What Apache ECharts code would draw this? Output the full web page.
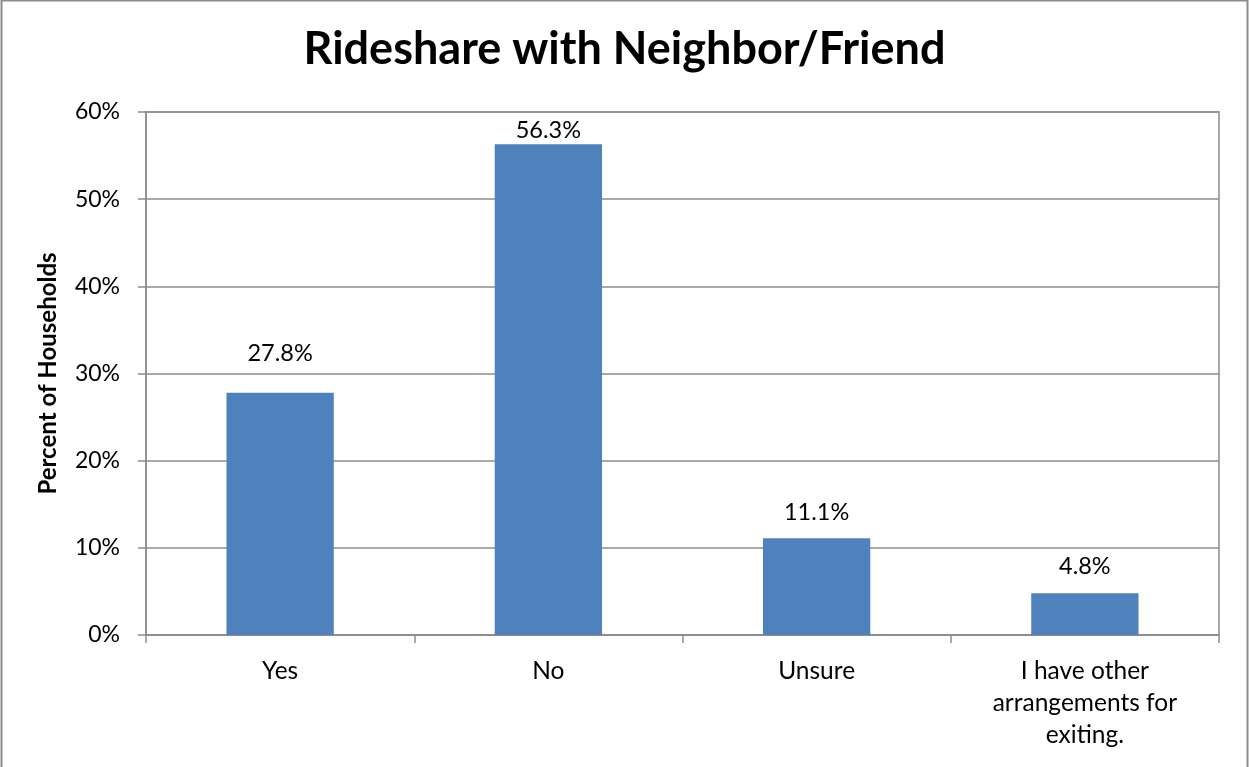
<!DOCTYPE html>
<html><head><meta charset="utf-8">
<script src="https://cdn.jsdelivr.net/npm/echarts@6/dist/echarts.min.js"></script>
<style>html,body{margin:0;padding:0;background:#fff}#c{width:1249px;height:767px}</style>
</head><body><div id="c"></div>
<script>
const categories = ['Yes', 'No', 'Unsure', 'I have other\narrangements for\nexiting.'];
const values = [27.8, 56.3, 11.1, 4.8];
const yTicks = [0, 10, 20, 30, 40, 50, 60];
const labelDistances = [27, 2, 14, 15];

const FONT = 'Lato, "Open Sans", sans-serif';
const chart = echarts.init(document.getElementById('c'), null, {renderer: 'canvas'});
chart.setOption({
  animation: false,
  backgroundColor: '#fff',
  title: {
    text: 'Rideshare with Neighbor/Friend',
    left: 'center', top: 22,
    textStyle: {fontFamily: FONT, fontSize: 45, fontWeight: 'bold', color: '#000'}
  },
  graphic: [{
    type: 'rect', shape: {x: 1.5, y: 0.5, width: 1246, height: 780},
    style: {fill: 'none', stroke: '#8c8c8c', lineWidth: 2}, silent: true
  }],
  grid: {left: 146, right: 30, top: 112, bottom: 132, show: true, borderColor: '#8c8c8c', borderWidth: 1.5},
  xAxis: {
    type: 'category', data: categories,
    axisLine: {lineStyle: {color: '#8c8c8c', width: 1.5}},
    axisTick: {show: true, length: 8, lineStyle: {color: '#8c8c8c', width: 1.5}},
    axisLabel: {fontFamily: FONT, fontSize: 24.5, color: '#000', margin: 20, lineHeight: 32, interval: 0}
  },
  yAxis: {
    type: 'value', min: yTicks[0], max: yTicks[yTicks.length - 1], interval: 10,
    name: 'Percent of Households', nameLocation: 'middle', nameGap: 86,
    nameTextStyle: {fontFamily: FONT, fontSize: 24, fontWeight: 'bold', color: '#000'},
    axisLine: {show: true, lineStyle: {color: '#8c8c8c', width: 1.5}},
    axisTick: {show: true, length: 8, lineStyle: {color: '#8c8c8c', width: 1.5}},
    axisLabel: {fontFamily: FONT, fontSize: 23, color: '#000', margin: 26, formatter: v => v + '%'},
    splitLine: {lineStyle: {color: '#8c8c8c', width: 1.5}}
  },
  series: [{
    type: 'bar', barWidth: '40%',
    data: values.map((v, i) => ({value: v, label: {distance: labelDistances[i]}})),
    itemStyle: {color: '#4F81BD'},
    label: {show: true, position: 'top', fontFamily: FONT, fontSize: 23.5, color: '#000',
      formatter: p => p.value.toFixed(1) + '%'}
  }]
});
</script></body></html>
